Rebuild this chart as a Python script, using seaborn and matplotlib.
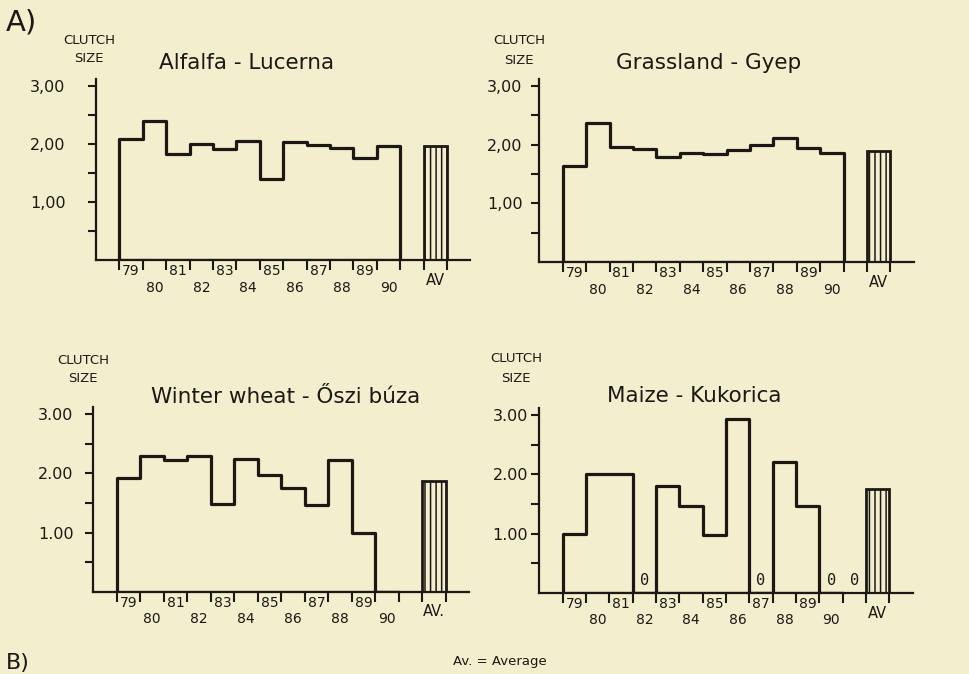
import numpy as np
import matplotlib
matplotlib.use("Agg")
import matplotlib.pyplot as plt
import seaborn as sns

# clutch size per year
years = [1979, 1980, 1981, 1982, 1983, 1984, 1985, 1986, 1987, 1988, 1989, 1990]

alfalfa = [2.09, 2.40, 1.82, 2.00, 1.91, 2.05, 1.39, 2.03, 1.99, 1.93, 1.76, 1.97]
alfalfa_av = 1.96

grassland = [1.63, 2.37, 1.96, 1.93, 1.79, 1.86, 1.84, 1.91, 1.99, 2.12, 1.95, 1.86]
grassland_av = 1.90

wheat = [1.93, 2.29, 2.23, 2.30, 1.48, 2.25, 1.98, 1.76, 1.47, 2.22, 0.99, 0.00]
wheat_av = 1.87

maize = [1.00, 2.00, 2.00, 0.00, 1.80, 1.46, 0.97, 2.93, 0.00, 2.21, 1.46, 0.00]
maize_av = 1.76
maize_zero_marks = [1982, 1987, 1990, 1991]

paper = "#f3eecd"
ink = "#1c1914"

sns.set_theme(style="ticks", rc={
    "figure.facecolor": paper,
    "axes.facecolor": paper,
    "axes.edgecolor": ink,
    "text.color": ink,
    "xtick.color": ink,
    "ytick.color": ink,
    "hatch.linewidth": 1.1,
})
plt.rcParams["font.family"] = ["DejaVu Sans"]


def draw_panel(ax, vals, av, av_label, sep, ypad, zeros=None):
    edges = years + [years[-1] + 1]
    sns.histplot(x=years, weights=vals, bins=edges, element="step", fill=True,
                 color=ink, facecolor="none", edgecolor=ink, linewidth=2.3, ax=ax)
    av_x = years[-1] + 2.5
    ax.bar(av_x, av, width=1.0, facecolor="none", edgecolor=ink,
           linewidth=2.0, hatch="|||")

    if zeros:
        for z in zeros:
            ax.text(z + 0.5, 0.21, "0", ha="center", va="center",
                    fontsize=11, family="DejaVu Sans Mono")

    ax.set_xlim(years[0] - 1, years[-1] + 4)
    ax.set_ylim(0, 3.12)
    ax.set_xlabel("")
    ax.set_ylabel("")
    sns.despine(ax=ax)
    for s in ["left", "bottom"]:
        ax.spines[s].set_linewidth(1.6)

    # ticks at bar edges, labels centred on bars in two staggered rows
    ax.set_xticks(edges + [av_x - 0.5, av_x + 0.5])
    ax.set_xticklabels([])
    centers = [y + 0.5 for y in years]
    labels = [str(y % 100) if i % 2 == 0 else "\n" + str(y % 100)
              for i, y in enumerate(years)]
    ax.set_xticks(centers, labels, minor=True)
    ax.tick_params(axis="x", which="major", length=7, width=1.5, direction="out")
    ax.tick_params(axis="x", which="minor", length=0, pad=3, labelsize=10)
    ax.annotate(av_label, xy=(av_x, 0), xytext=(0, -9), textcoords="offset points",
                ha="center", va="top", fontsize=10.5)

    ax.set_yticks([1, 2, 3], [f"1{sep}00", f"2{sep}00", f"3{sep}00"])
    ax.set_yticks([0.5, 1.5, 2.5], minor=True)
    ax.tick_params(axis="y", which="both", length=6, width=1.5, direction="out",
                   pad=ypad, labelsize=11.5)


W, H = 970, 674
fig = plt.figure(figsize=(W / 100, H / 100), dpi=100)


def fx(px):
    return px / W


def fy(py):
    return 1 - py / H


panels = [
    ([0.099, 0.614, 0.386, 0.269], alfalfa, alfalfa_av, "AV", ",", 16, None,
     "Alfalfa - Lucerna", (247, 63), (89, 40)),
    ([0.556, 0.611, 0.386, 0.272], grassland, grassland_av, "AV", ",", 6, None,
     "Grassland - Gyep", (709, 63), (519, 41)),
    ([0.096, 0.122, 0.388, 0.274], wheat, wheat_av, "AV.", ".", 8, None,
     "Winter wheat - Őszi búza", (286, 397), (83, 360)),
    ([0.556, 0.120, 0.385, 0.275], maize, maize_av, "AV", ".", 2, maize_zero_marks,
     "Maize - Kukorica", (694, 396), (516, 359)),
]

for rect, vals, av, av_label, sep, ypad, zeros, title, tpos, cpos in panels:
    ax = fig.add_axes(rect)
    draw_panel(ax, vals, av, av_label, sep, ypad, zeros)
    fig.text(fx(tpos[0]), fy(tpos[1]), title, ha="center", va="center", fontsize=15.5)
    fig.text(fx(cpos[0]), fy(cpos[1]), "CLUTCH", ha="center", va="center", fontsize=9.5)
    fig.text(fx(cpos[0]), fy(cpos[1] + 19), "SIZE", ha="center", va="center", fontsize=9.5)

fig.text(fx(6), fy(22), "A)", ha="left", va="center", fontsize=21)
fig.text(fx(6), fy(673), "B)", ha="left", va="bottom", fontsize=16)
fig.text(fx(500), fy(661), "Av. = Average", ha="center", va="center", fontsize=9.5)

fig.savefig("out.png", dpi=100, facecolor=paper)
